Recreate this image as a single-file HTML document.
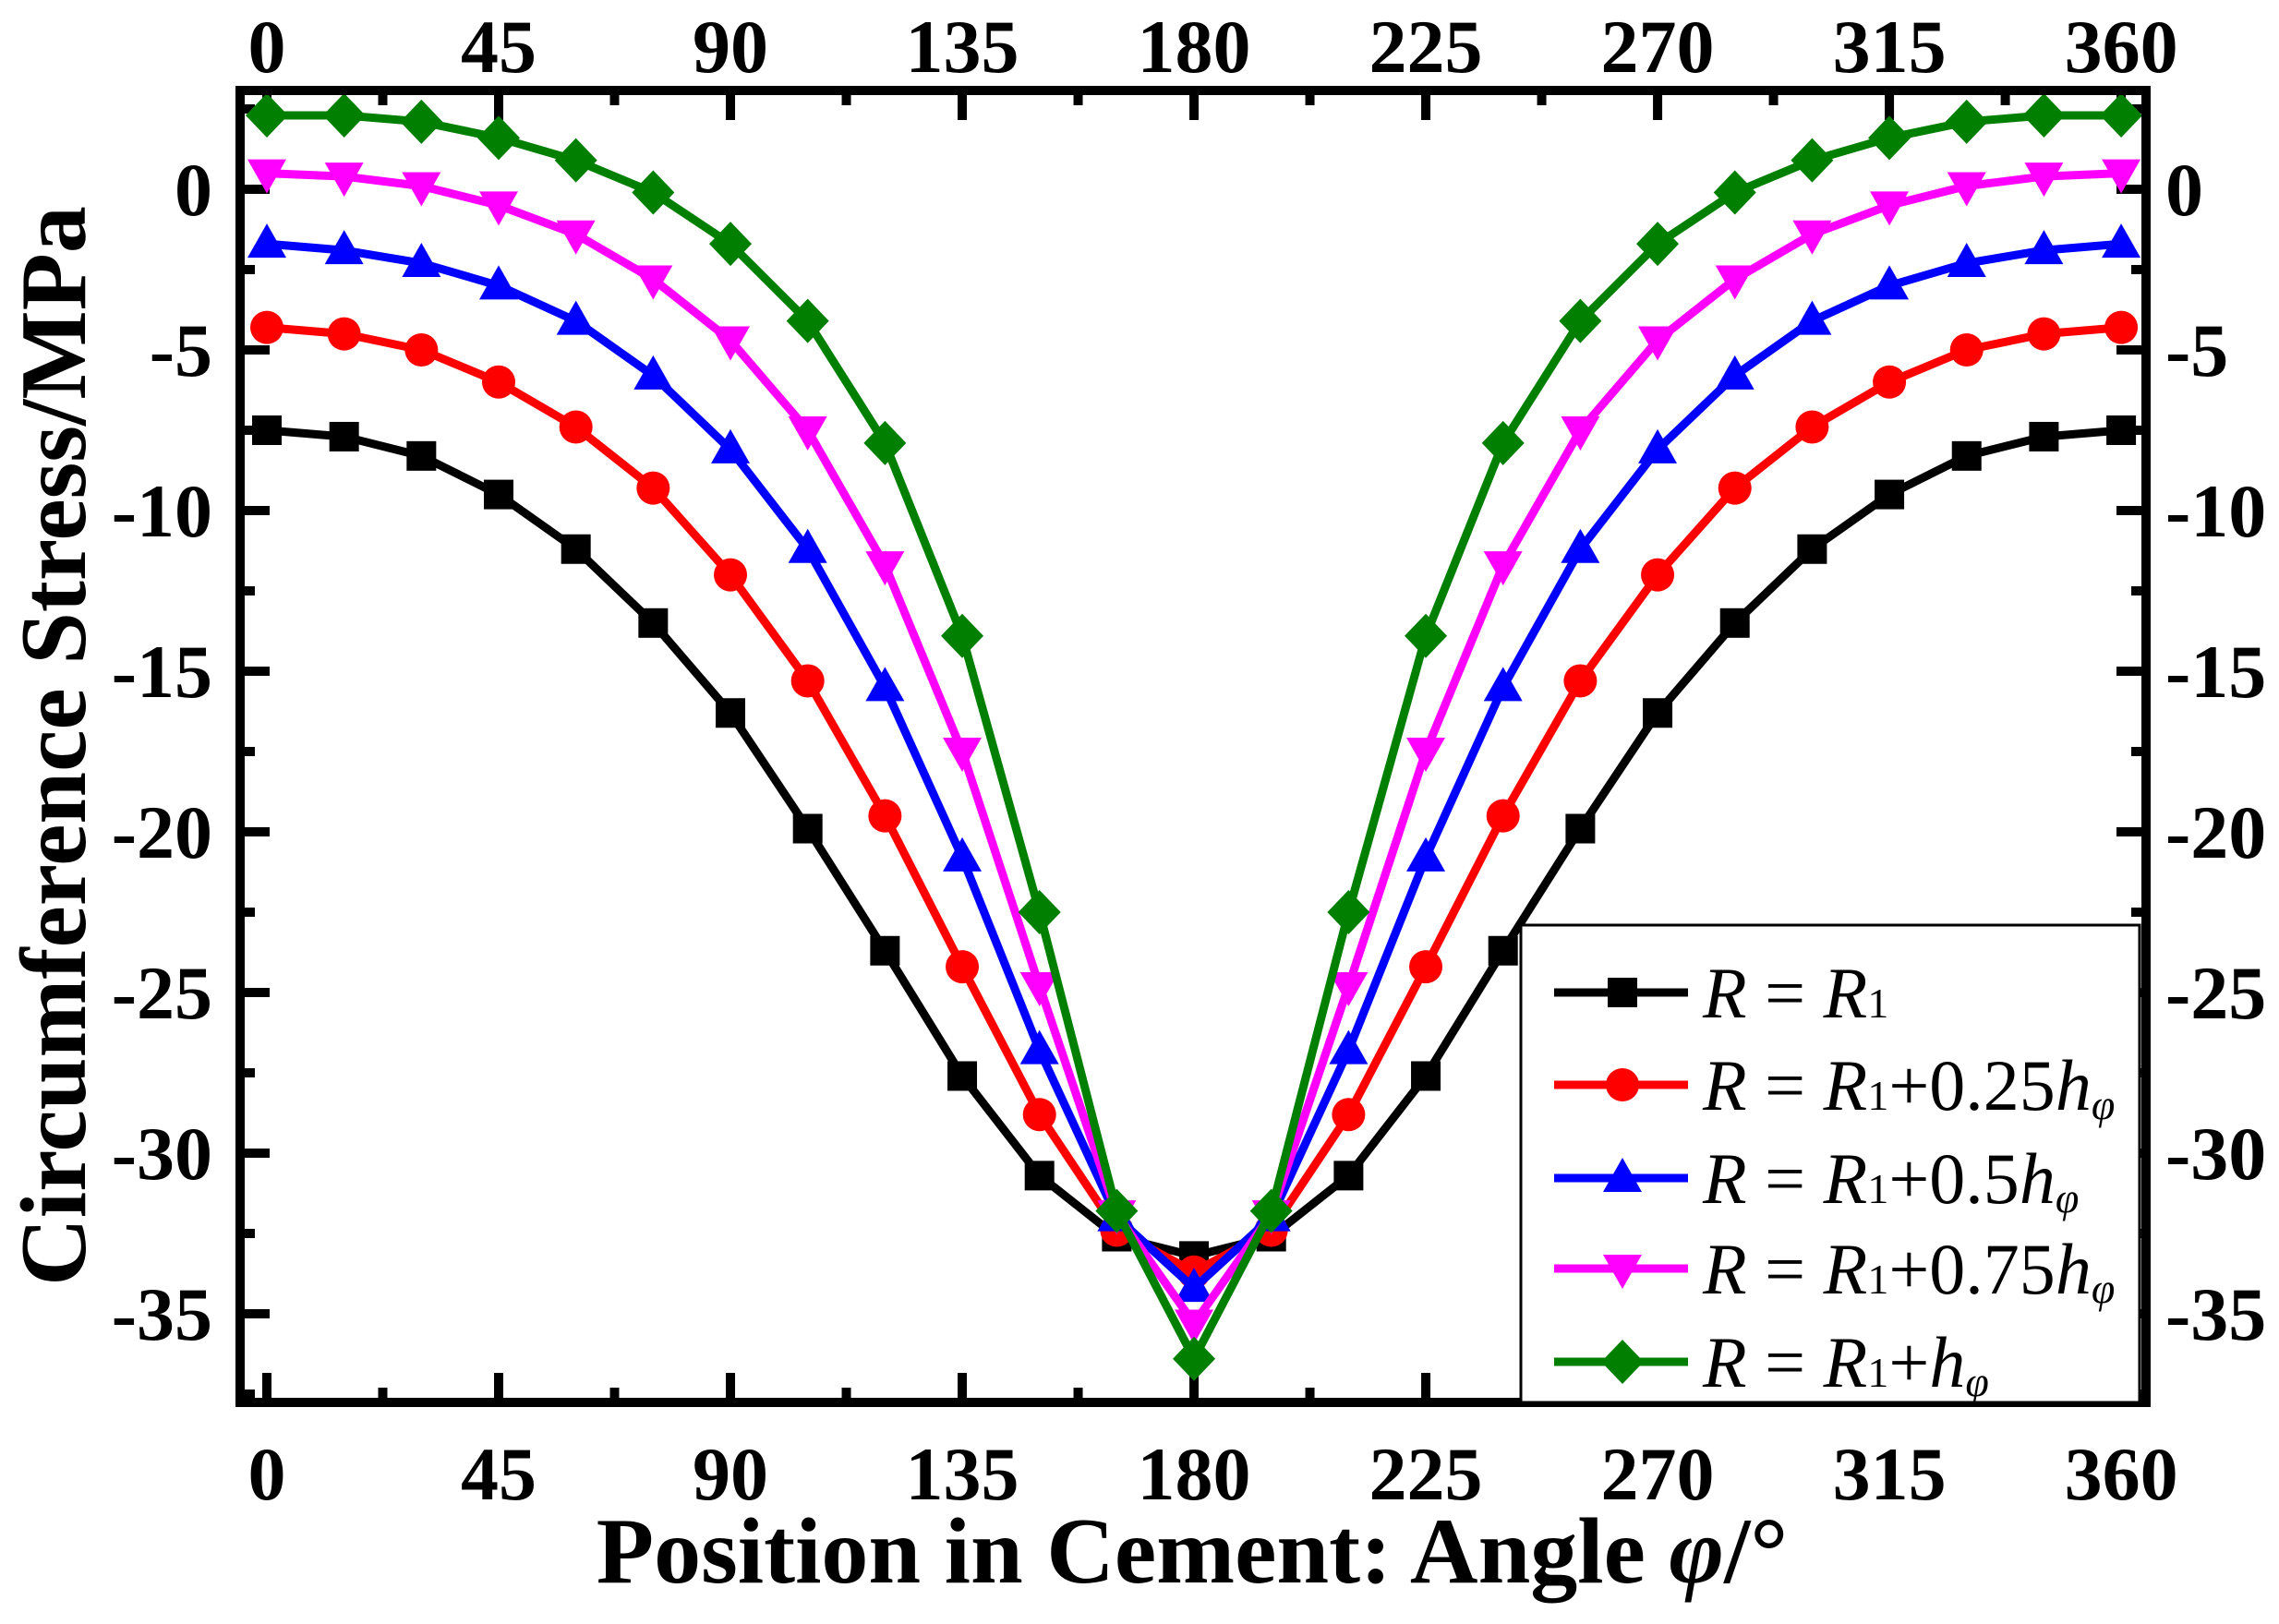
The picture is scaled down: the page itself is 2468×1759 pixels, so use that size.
<!DOCTYPE html>
<html><head><meta charset="utf-8"><style>
html,body{margin:0;padding:0;background:#fff;}
svg{display:block;}
</style></head><body>
<svg id="s" width="2468" height="1759" viewBox="0 0 2468 1759" xmlns="http://www.w3.org/2000/svg" font-family="'Liberation Serif', 'DejaVu Serif', serif">
<rect width="2468" height="1759" fill="#fff"/>
<g id="ticks"></g>
<g id="series"></g>
<rect x="260" y="98" width="2064" height="1421" fill="none" stroke="#000" stroke-width="10"/>
<g id="labels" font-weight="bold" font-size="82" font-family="'Liberation Serif', serif"></g>
<text x="1291" y="1714" font-size="102" font-weight="bold" text-anchor="middle" font-family="'Liberation Serif', serif">Position in Cement: Angle <tspan font-style="italic">φ</tspan>/°</text>
<text transform="translate(92,808) rotate(-90)" font-size="102" font-weight="bold" text-anchor="middle" font-family="'Liberation Serif', serif">Circumference Stress/MPa</text>
<rect x="1647" y="1002" width="670" height="517" fill="#fff" stroke="#000" stroke-width="3"/>
<g id="legend" font-family="'Liberation Serif', serif"></g>
</svg>
<script>
var NS="http://www.w3.org/2000/svg";
function el(p,t,a,txt){var e=document.createElementNS(NS,t);for(var k in a)e.setAttribute(k,a[k]);if(txt!==undefined)e.textContent=txt;p.appendChild(e);return e;}
function X(d){return 289+d*5.578;}
function Y(v){return 205-v*34.8;}
var tk=document.getElementById('ticks'),lb=document.getElementById('labels');
for(var d=0;d<=360;d+=22.5){var maj=(d%45===0);var L=maj?32:16;var x=X(d);
 el(tk,'line',{x1:x,x2:x,y1:1519,y2:1519-L,stroke:'#000','stroke-width':10});
 el(tk,'line',{x1:x,x2:x,y1:98,y2:98+L,stroke:'#000','stroke-width':10});
 if(maj){el(lb,'text',{x:x,y:1624,'text-anchor':'middle'},String(d));el(lb,'text',{x:x,y:78,'text-anchor':'middle'},String(d));}}
for(var v=2.5;v>=-37.5;v-=2.5){var maj=(v%5===0);var L=maj?32:16;var y=Y(v);
 el(tk,'line',{x1:260,x2:260+L,y1:y,y2:y,stroke:'#000','stroke-width':10});
 el(tk,'line',{x1:2324,x2:2324-L,y1:y,y2:y,stroke:'#000','stroke-width':10});
 if(maj){el(lb,'text',{x:230,y:y+28,'text-anchor':'end'},String(v));el(lb,'text',{x:2345,y:y+28,'text-anchor':'start'},String(v));}}
var half=[
[-7.5,-7.7,-8.3,-9.5,-11.2,-13.5,-16.3,-19.9,-23.7,-27.6,-30.7,-32.6,-33.2],
[-4.3,-4.5,-5.0,-6.0,-7.4,-9.3,-12.0,-15.3,-19.5,-24.2,-28.8,-32.4,-33.7],
[-1.7,-1.9,-2.3,-3.0,-4.1,-5.8,-8.1,-11.2,-15.5,-20.8,-26.8,-32.0,-34.2],
[0.5,0.4,0.1,-0.5,-1.4,-2.8,-4.7,-7.5,-11.7,-17.5,-24.8,-31.9,-35.3],
[2.3,2.3,2.1,1.6,0.9,-0.1,-1.7,-4.1,-7.9,-13.9,-22.5,-31.8,-36.4]];
var cols=['#000','#f00','#00f','#f0f','#007f00'];
function marker(g,k,x,y,c){
 if(k===0)el(g,'rect',{x:x-16,y:y-16,width:32,height:32,fill:c});
 else if(k===1)el(g,'circle',{cx:x,cy:y,r:18,fill:c});
 else if(k===2)el(g,'polygon',{points:(x)+','+(y-22)+' '+(x-21)+','+(y+15)+' '+(x+21)+','+(y+15),fill:c});
 else if(k===3)el(g,'polygon',{points:(x)+','+(y+22)+' '+(x-21)+','+(y-15)+' '+(x+21)+','+(y-15),fill:c});
 else el(g,'polygon',{points:(x)+','+(y-24)+' '+(x+23)+','+y+' '+(x)+','+(y+24)+' '+(x-23)+','+y,fill:c});}
var sg=document.getElementById('series');
for(var k=0;k<5;k++){var h=half[k];var full=h.concat(h.slice(0,12).reverse());var pts=[];
 for(var i=0;i<25;i++)pts.push(X(i*15)+','+Y(full[i]));
 el(sg,'polyline',{points:pts.join(' '),fill:'none',stroke:cols[k],'stroke-width':9,'stroke-linejoin':'round'});
 for(var i=0;i<25;i++)marker(sg,k,X(i*15),Y(full[i]),cols[k]);}
var lg=document.getElementById('legend');
var labs=['','+0.25','+0.5','+0.75','+'];
var ys=[1075,1175,1276,1374,1475];
for(var k=0;k<5;k++){var y=ys[k];
 el(lg,'line',{x1:1683,x2:1828,y1:y,y2:y,stroke:cols[k],'stroke-width':9});
 marker(lg,k,1757,y,cols[k]);
 var t=el(lg,'text',{x:1844,y:y+27,'font-size':78});
 el(t,'tspan',{'font-style':'italic'},'R');
 el(t,'tspan',{},' = ');
 el(t,'tspan',{'font-style':'italic'},'R');
 el(t,'tspan',{'font-size':46},'1');
 if(k>0){el(t,'tspan',{},labs[k]);el(t,'tspan',{'font-style':'italic'},'h');el(t,'tspan',{'font-size':46,'font-style':'italic',dy:10},'φ');}}
</script>
</body></html>
